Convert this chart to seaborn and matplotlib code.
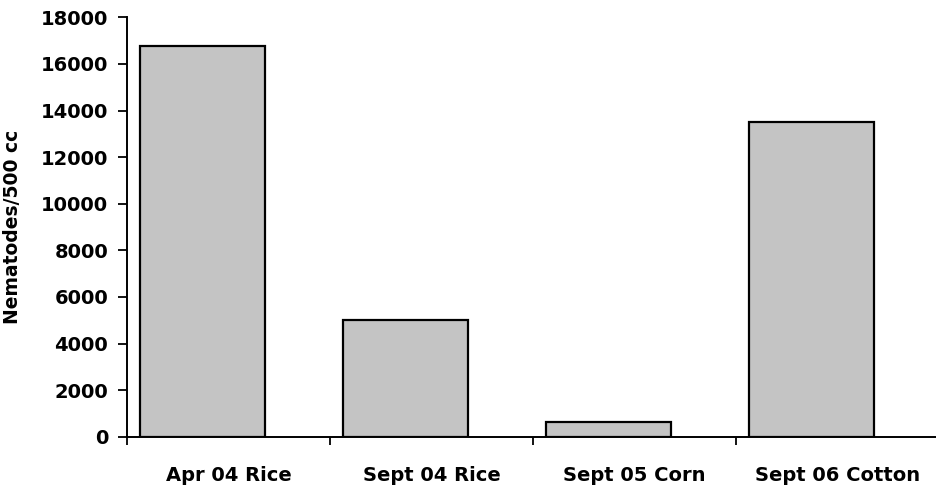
import pandas as pd
import matplotlib.pyplot as plt
import seaborn as sns
from matplotlib.ticker import FixedLocator

# Values
samples = ['Apr 04 Rice', 'Sept 04 Rice', 'Sept 05 Corn', 'Sept 06 Cotton']
nematodes = [16750, 5000, 650, 13500]

df = pd.DataFrame({'sample': samples, 'count': nematodes})

sns.set_theme(style="white")
plt.rcParams['font.family'] = ['DejaVu Sans']
plt.rcParams['text.color'] = 'black'
plt.rcParams['axes.labelcolor'] = 'black'
plt.rcParams['xtick.color'] = 'black'
plt.rcParams['ytick.color'] = 'black'

fig = plt.figure(figsize=(9.37, 4.88), dpi=100)
ax = fig.add_axes([0.1355, 0.105, 0.8645, 0.8595])

sns.barplot(data=df, x='sample', y='count', color='#c4c4c4', saturation=1,
            edgecolor='black', linewidth=1.6, width=0.616, ax=ax)

# the original chart sits its bars a little left of the category centres
shift = 0.128
n = len(samples)
ax.set_xlim(-0.5 + shift, n - 0.5 + shift - 0.01)
ax.set_ylim(0, 18000)
ax.set_yticks(range(0, 18001, 2000))
ax.set_xticks([i + shift for i in range(n)])
ax.set_xticklabels(samples)
ax.xaxis.set_minor_locator(FixedLocator([i - 0.5 + shift for i in range(n + 1)]))
ax.set_xlabel('')

ax.set_ylabel('Nematodes/500 cc', fontsize=13.5, fontweight='bold')
ax.yaxis.set_label_coords(-0.13, 0.5)

for lbl in ax.get_xticklabels() + ax.get_yticklabels():
    lbl.set_fontweight('bold')

ax.tick_params(axis='x', which='major', length=0, pad=21, labelsize=14)
ax.tick_params(axis='x', which='minor', bottom=True, length=6, width=1.3, direction='out')
ax.tick_params(axis='y', left=True, length=6.5, width=1.3, direction='out', pad=7, labelsize=14)

sns.despine(ax=ax, top=True, right=True)
for side in ['left', 'bottom']:
    ax.spines[side].set_color('black')
    ax.spines[side].set_linewidth(1.4)

fig.savefig('out.png', dpi=100)
